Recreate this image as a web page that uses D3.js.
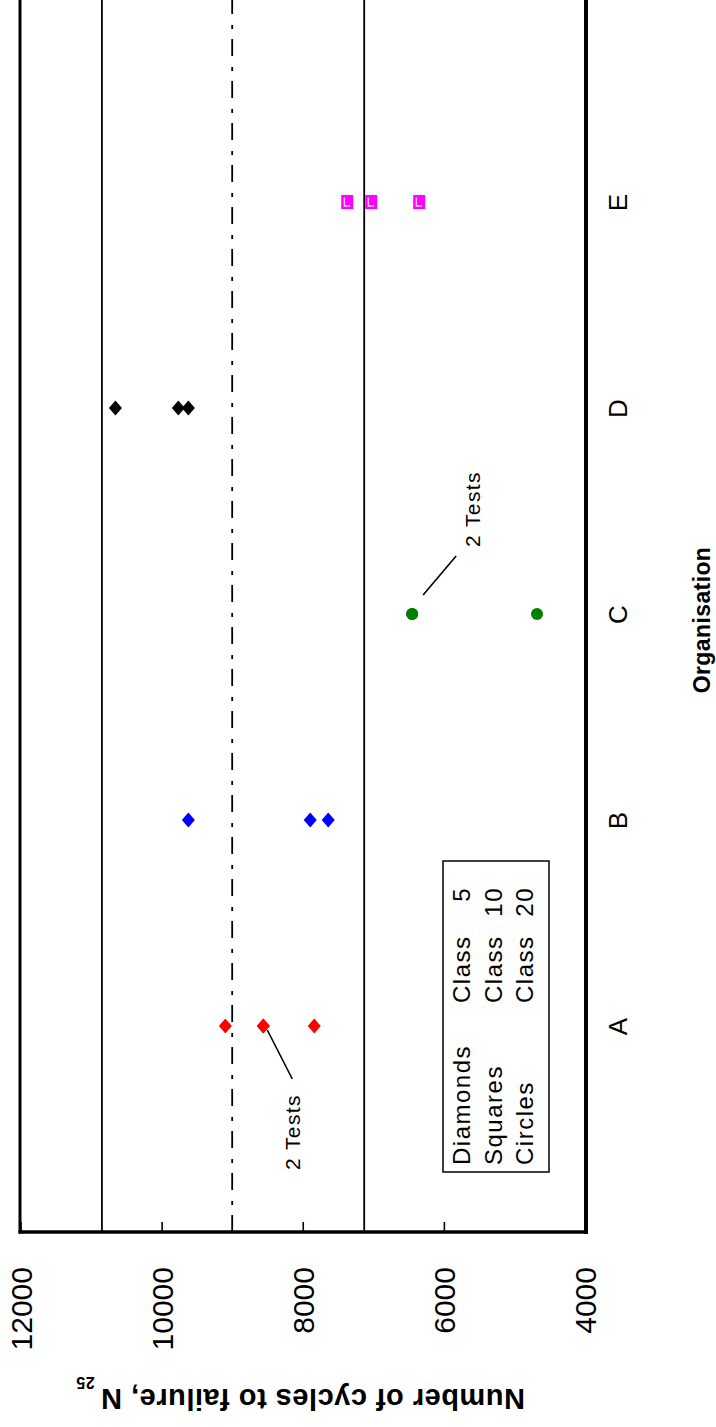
<!DOCTYPE html>
<html>
<head>
<meta charset="utf-8">
<script src="https://cdn.jsdelivr.net/npm/d3@7"></script>
<style>
  html, body { margin: 0; padding: 0; background: #fff; }
  svg { display: block; font-family: "Liberation Sans", Arial, sans-serif; }
</style>
</head>
<body>
<script>
// Organisations along the category axis
const categories = ["A", "B", "C", "D", "E"];

// Cycles to failure per organisation (duplicates = repeated results)
const orgA = [9097, 8559, 8559, 7837];
const orgB = [9621, 7894, 7639];
const orgC = [6450, 6450, 4680];
const orgD = [10655, 9763, 9621];
const orgE = [7370, 7030, 6350];

const seriesValues = [orgA, orgB, orgC, orgD, orgE];
const seriesShapes = ["diamond", "diamond", "circle", "diamond", "square"];
const seriesColors = ["#ff0000", "#0000ff", "#008000", "#000000", "#ff00ff"];

// Mean and limit lines
const meanLine = 9000;
const limitLines = [10846, 7129];

// Axis ticks
const valueTicks = [12000, 10000, 8000, 6000, 4000];

// Legend rows
const legendShapes = ["Diamonds", "Squares", "Circles"];
const legendClasses = ["5", "10", "20"];

// Annotated duplicates: [organisation index, value]
const annotations = [[0, 8559], [2, 6450]];

const W = 716, H = 1427;
const svg = d3.select("body").append("svg").attr("width", W).attr("height", H);
svg.append("rect").attr("width", W).attr("height", H).attr("fill", "#fff");

// The chart is laid out sideways: values run right-to-left, organisations bottom-to-top
const xVal = d3.scaleLinear().domain([4000, 12000]).range([585, 20.5]);
const yCat = d3.scaleLinear().domain([0, 6]).range([1232, -4]);

const plotTop = 0, plotBottom = 1232;

// Limit lines
svg.selectAll("line.limit").data(limitLines).join("line")
  .attr("class", "limit")
  .attr("x1", d => xVal(d)).attr("x2", d => xVal(d))
  .attr("y1", plotBottom).attr("y2", plotTop)
  .attr("stroke", "#000").attr("stroke-width", 1.8);

// Mean line (dash-dot)
svg.append("line")
  .attr("x1", xVal(meanLine)).attr("x2", xVal(meanLine))
  .attr("y1", plotBottom).attr("y2", plotTop)
  .attr("stroke", "#000").attr("stroke-width", 1.8)
  .attr("stroke-dasharray", "17,10,4,11");

// Value axis (bottom)
const valueAxis = d3.axisBottom(xVal)
  .tickValues(valueTicks)
  .tickSize(-10)
  .tickFormat(d3.format("d"));
const gv = svg.append("g").attr("transform", `translate(0,${plotBottom})`).call(valueAxis);
gv.select(".domain").remove();
gv.selectAll(".tick line").attr("stroke", "#000").attr("stroke-width", 1.6);
gv.selectAll(".tick text")
  .attr("x", 0).attr("y", 0).attr("dy", "0.35em")
  .attr("transform", "translate(0,35) rotate(-90)")
  .attr("text-anchor", "end")
  .attr("fill", "#000")
  .style("font-size", "30px")
  .style("font-family", "'Liberation Sans', Arial, sans-serif");

// Category axis (right)
const catAxis = d3.axisRight(yCat)
  .tickValues([1, 2, 3, 4, 5])
  .tickSize(0)
  .tickFormat(i => categories[i - 1]);
const gc = svg.append("g").attr("transform", "translate(586,0)").call(catAxis);
gc.select(".domain").remove();
gc.selectAll(".tick text")
  .attr("x", 0).attr("y", 0).attr("dy", "0.35em")
  .attr("transform", "translate(32,0) rotate(-90)")
  .attr("text-anchor", "middle")
  .attr("fill", "#000")
  .style("font-size", "26px")
  .style("font-family", "'Liberation Sans', Arial, sans-serif");

// Frame
svg.append("line").attr("x1", 20).attr("x2", 20).attr("y1", plotTop).attr("y2", plotBottom + 1.5)
  .attr("stroke", "#000").attr("stroke-width", 3);
svg.append("line").attr("x1", 18.5).attr("x2", 588).attr("y1", plotBottom).attr("y2", plotBottom)
  .attr("stroke", "#000").attr("stroke-width", 3.5);
svg.append("line").attr("x1", 586).attr("x2", 586).attr("y1", plotTop).attr("y2", plotBottom + 1.75)
  .attr("stroke", "#000").attr("stroke-width", 4);

// Markers
const points = [];
seriesValues.forEach((vals, i) => vals.forEach(v => points.push({ org: i, value: v })));

const gm = svg.append("g");
points.forEach(p => {
  const cx = xVal(p.value), cy = yCat(p.org + 1);
  const shape = seriesShapes[p.org], col = seriesColors[p.org];
  if (shape === "diamond") {
    gm.append("path")
      .attr("d", `M${cx},${cy - 7.5}L${cx + 6.5},${cy}L${cx},${cy + 7.5}L${cx - 6.5},${cy}Z`)
      .attr("fill", col);
  } else if (shape === "circle") {
    gm.append("circle").attr("cx", cx).attr("cy", cy).attr("r", 6).attr("fill", col);
  } else {
    gm.append("rect").attr("x", cx - 6).attr("y", cy - 7).attr("width", 12).attr("height", 14)
      .attr("fill", col);
    gm.append("path")
      .attr("d", `M${cx - 2.8},${cy - 4.5}V${cy + 4}H${cx + 3}`)
      .attr("fill", "none").attr("stroke", "#ffc8ff").attr("stroke-width", 1.4);
  }
});

// "2 Tests" annotations
const annoStyle = [
  { dx1: 4, dy1: 4, dx2: 29, dy2: 53, tx: 300, ty: 1170 },
  { dx1: 11, dy1: -19, dx2: 44, dy2: -58, tx: 480, ty: 547 }
];
annotations.forEach((a, i) => {
  const cx = xVal(a[1]), cy = yCat(a[0] + 1), s = annoStyle[i];
  svg.append("line")
    .attr("x1", cx + s.dx1).attr("y1", cy + s.dy1)
    .attr("x2", cx + s.dx2).attr("y2", cy + s.dy2)
    .attr("stroke", "#000").attr("stroke-width", 1.6);
  svg.append("text")
    .attr("transform", `translate(${s.tx},${s.ty}) rotate(-90)`)
    .attr("text-anchor", "start")
    .style("font-size", "21px").style("letter-spacing", "1.4px")
    .text("2 Tests");
});

// Legend box
svg.append("rect").attr("x", 443).attr("y", 861).attr("width", 106).attr("height", 311)
  .attr("fill", "#fff").attr("stroke", "#000").attr("stroke-width", 1.5);
legendShapes.forEach((name, i) => {
  const bx = 470 + i * 31.5;
  svg.append("text")
    .attr("transform", `translate(${bx},1165) rotate(-90)`)
    .style("font-size", "24px").style("letter-spacing", "1.5px")
    .text(name);
  svg.append("text")
    .attr("transform", `translate(${bx},1003) rotate(-90)`)
    .style("font-size", "24px").style("letter-spacing", "1.5px")
    .text("Class");
  svg.append("text")
    .attr("transform", `translate(${bx},887) rotate(-90)`)
    .attr("text-anchor", "end")
    .style("font-size", "24px").style("letter-spacing", "1.5px")
    .text(legendClasses[i]);
});

// Axis titles
svg.append("text")
  .attr("transform", "translate(710,620) rotate(-90)")
  .attr("text-anchor", "middle")
  .style("font-size", "23px").style("font-weight", "bold").style("letter-spacing", "0.4px")
  .text("Organisation");

const yt = svg.append("text")
  .attr("transform", "translate(525,1389) rotate(180)")
  .attr("text-anchor", "start")
  .style("font-size", "29px").style("font-weight", "bold").style("letter-spacing", "0.5px");
yt.append("tspan").text("Number of cycles to failure, N");
yt.append("tspan").attr("dx", 6).attr("dy", 12).style("font-size", "16px").text("25");
</script>
</body>
</html>
